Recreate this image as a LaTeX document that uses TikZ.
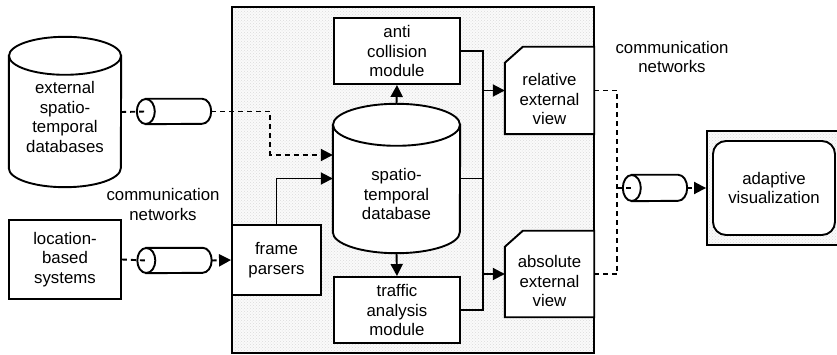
\documentclass[tikz,border=0pt]{standalone}
\usepackage{fontspec}
\setmainfont{Liberation Sans}
\usetikzlibrary{
  positioning,
  arrows.meta,
  patterns
}

% cylinder standing upright on node #1: x radius #2, y radius #3
\newcommand\drum[3]{%
  \draw[shell] ([yshift=-#3pt]#1.north west) -- ([yshift=#3pt]#1.south west)
    arc[start angle=180, end angle=0, x radius=#2, y radius=#3]
    -- ([yshift=-#3pt]#1.north east) -- cycle;
  \draw[shell] ([yshift=-#3pt]#1.north) ellipse[x radius=#2, y radius=#3];}
% lying cylinder on node #1, open end to the left
\newcommand\tube[3]{%
  \draw[shell] ([xshift=#2pt]#1.north west) -- ([xshift=-#2pt]#1.north east)
    arc[start angle=-90, end angle=90, x radius=#2, y radius=#3]
    -- ([xshift=#2pt]#1.south west) -- cycle;
  \draw[shell] ([xshift=#2pt]#1.west) ellipse[x radius=#2, y radius=#3];}
% box with its top left corner cut off
\newcommand\cutbox[1]{%
  \draw[shell] ([yshift=-16pt]#1.north west) -- ([xshift=18pt]#1.north west)
    -- (#1.north east) -- (#1.south east) -- (#1.south west) -- cycle;}

\begin{document}
\begin{tikzpicture}[x=1pt, y=-1pt,
  every node/.style={font=\fontsize{16.8pt}{19.5pt}\selectfont, align=center},
  line/.style={line width=1.9pt},
  shell/.style={line, fill=white},
  area/.style={draw, line width=1.9pt, preaction={fill=black!2},
    pattern=crosshatch dots, pattern color=black!14},
  box/.style={draw, line width=1.9pt, fill=white, inner sep=0pt},
  spot/.style={inner sep=0pt},
  flow/.style={line, -{Triangle[length=12pt,width=12pt]}},
  link/.style={line, dash pattern=on 5pt off 4pt},
  linkto/.style={link, -{Triangle[length=12pt,width=12pt]}}
]
  \useasboundingbox (0,0) rectangle (837,355);

  % server side and client side
  \node[area, minimum width=362pt, minimum height=346pt] (server) at (413,180) {};
  \node[area, minimum width=135pt, minimum height=114pt] (client) at (774.5,188) {};
  \node[box, rounded corners=13pt, minimum width=122pt, minimum height=94pt] (vis) at (774,188) {adaptive\\visualization};

  % sources
  \node[spot, minimum width=112pt, minimum height=150pt] (extdb) at (65,112) {};
  \drum{extdb}{56}{19}
  \node at (65,117) {external\\spatio-\\temporal\\databases};
  \node[box, minimum width=112pt, minimum height=79pt] (lbs) at (65,259.5) {location-\\based\\systems};

  % networks
  \node[spot, minimum width=74pt, minimum height=25pt] (netA) at (174,111.5) {};
  \node[spot, minimum width=74pt, minimum height=25pt] (netB) at (174.5,260.5) {};
  \node[spot, minimum width=64pt, minimum height=26pt] (netC) at (655,188) {};
  \tube{netA}{9}{12.5}
  \tube{netB}{9}{12.5}
  \tube{netC}{9}{13}
  \node at (163,204.5) {communication\\networks};
  \node at (672,57) {communication\\networks};

  % server modules
  \node[box, minimum width=89pt, minimum height=70pt] (parser) at (276.5,260) {frame\\parsers};
  \node[box, minimum width=126pt, minimum height=66pt] (anti) at (397,51) {anti\\collision\\module};
  \node[spot, minimum width=127pt, minimum height=149pt] (stdb) at (396.5,178.5) {};
  \drum{stdb}{63.5}{21}
  \node at (396.5,194) {spatio-\\temporal\\database};
  \node[box, minimum width=126pt, minimum height=66pt] (traffic) at (397,310) {traffic\\analysis\\module};
  \node[spot, minimum width=89pt, minimum height=87pt] (relview) at (549.5,90.5) {};
  \cutbox{relview}
  \node at (549.5,99) {relative\\external\\view};
  \node[spot, minimum width=89pt, minimum height=86pt] (absview) at (549.5,274) {};
  \cutbox{absview}
  \node at (549.5,281) {absolute\\external\\view};

  % inputs
  \draw[link] (extdb.east) -- ([xshift=9pt]netA.west);
  \draw[linkto] (netA.east) -- ++(59,0) |- ([yshift=23.5pt]stdb.west);
  \draw[link] (lbs.east) -- ([xshift=9pt]netB.west);
  \draw[linkto] (netB.east) -- (parser.west);
  \draw[flow] (parser.north) |- (stdb.west);

  % database to modules
  \draw[flow] (stdb.north) -- (anti.south);
  \draw[flow] (stdb.south) -- (traffic.north);

  % results bus
  \draw[line] (anti.east) -- ++(22,0) coordinate (bus) |- (traffic.east);
  \draw[line] (stdb.east) -- (stdb.east -| bus);
  \draw[flow] (bus |- relview.west) -- (relview.west);
  \draw[flow] (bus |- absview.west) -- (absview.west);

  % out to the client
  \draw[link] (relview.east) -- ++(23,0) coordinate (wan) |- (absview.east);
  \draw[link] (wan |- netC.west) -- ([xshift=9pt]netC.west);
  \draw[linkto] (netC.east) -- (client.west);
\end{tikzpicture}
\end{document}
